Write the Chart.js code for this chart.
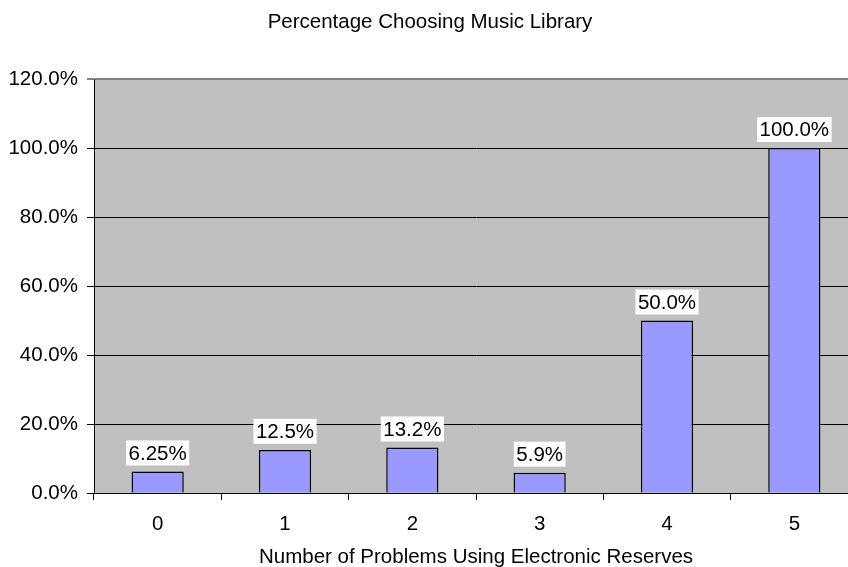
<!DOCTYPE html>
<html>
<head>
<meta charset="utf-8">
<script src="https://cdn.jsdelivr.net/npm/chart.js@4"></script>
<style>
    body { margin: 0; background: #fff; overflow: hidden; }
    #wrap { width: 848px; height: 567px; overflow: hidden; }
</style>
</head>
<body>
<div id="wrap"><canvas id="chart" width="858" height="567"></canvas></div>
<script>
// --- data ---
const categories = ["0", "1", "2", "3", "4", "5"];
const percentChoosing = [6.25, 12.5, 13.2, 5.9, 50.0, 100.0];
const valueLabels = ["6.25%", "12.5%", "13.2%", "5.9%", "50.0%", "100.0%"];
const yTicks = [0, 20, 40, 60, 80, 100, 120];

const chartTitle = "Percentage Choosing Music Library";
const xAxisTitle = "Number of Problems Using Electronic Reserves";
const FONT = "'Liberation Sans', Arial, sans-serif";

// grey plot area
const plotBackground = {
    id: 'plotBackground',
    beforeDraw(chart) {
        const { ctx, chartArea: a } = chart;
        ctx.save();
        ctx.fillStyle = '#c0c0c0';
        ctx.fillRect(a.left, a.top, a.right - a.left, a.bottom - a.top);
        ctx.restore();
    }
};

// labels with white boxes above bars
const barLabels = {
    id: 'barLabels',
    afterDatasetsDraw(chart) {
        const ctx = chart.ctx;
        const meta = chart.getDatasetMeta(0);
        ctx.save();
        ctx.font = '20.5px ' + FONT;
        ctx.textAlign = 'center';
        ctx.textBaseline = 'middle';
        meta.data.forEach((bar, i) => {
            const text = valueLabels[i];
            const w = ctx.measureText(text).width + 5;
            const h = 25;
            const bottom = bar.y - 6;
            ctx.fillStyle = '#ffffff';
            ctx.fillRect(bar.x - w / 2, bottom - h, w, h);
            ctx.fillStyle = '#000000';
            ctx.fillText(text, bar.x, bottom - h / 2 + 1);
        });
        ctx.restore();
    }
};

// chart title and x axis title
const titles = {
    id: 'titles',
    afterDraw(chart) {
        const ctx = chart.ctx;
        const a = chart.chartArea;
        ctx.save();
        ctx.fillStyle = '#000000';
        ctx.textAlign = 'center';
        ctx.textBaseline = 'alphabetic';
        ctx.font = '20.5px ' + FONT;
        ctx.fillText(chartTitle, 430, 28);
        ctx.fillText(xAxisTitle, (a.left + a.right) / 2, 563);
        ctx.restore();
    }
};

new Chart(document.getElementById('chart').getContext('2d'), {
    type: 'bar',
    data: {
        labels: categories,
        datasets: [{
            data: percentChoosing,
            backgroundColor: '#9999ff',
            borderColor: '#000000',
            borderWidth: 1.5,
            barPercentage: 0.41,
            categoryPercentage: 1.0
        }]
    },
    options: {
        responsive: false,
        animation: false,
        devicePixelRatio: 1,
        layout: { padding: { top: 79, left: 0, right: 0, bottom: 0 } },
        plugins: {
            legend: { display: false },
            title: { display: false },
            tooltip: { enabled: false }
        },
        scales: {
            x: {
                afterFit: (scale) => { scale.height = 74; },
                grid: {
                    offset: true,
                    drawOnChartArea: false,
                    drawTicks: true,
                    tickLength: 7,
                    color: '#000000'
                },
                border: { color: '#000000', width: 1 },
                ticks: { color: '#000000', font: { family: FONT, size: 20.5 }, padding: 12 }
            },
            y: {
                min: 0,
                max: 120,
                afterFit: (scale) => { scale.width = 94; },
                afterBuildTicks: (scale) => { scale.ticks = yTicks.map(v => ({ value: v })); },
                grid: {
                    color: (c) => c.tick && c.tick.value === 120 ? '#808080' : '#000000',
                    lineWidth: (c) => c.tick && c.tick.value === 120 ? 2 : 1,
                    tickLength: 7
                },
                border: { color: '#000000', width: 1 },
                ticks: {
                    color: '#000000',
                    font: { family: FONT, size: 20.5 },
                    padding: 9,
                    callback: (v) => v.toFixed(1) + '%'
                }
            }
        }
    },
    plugins: [plotBackground, barLabels, titles]
});
</script>
</body>
</html>
